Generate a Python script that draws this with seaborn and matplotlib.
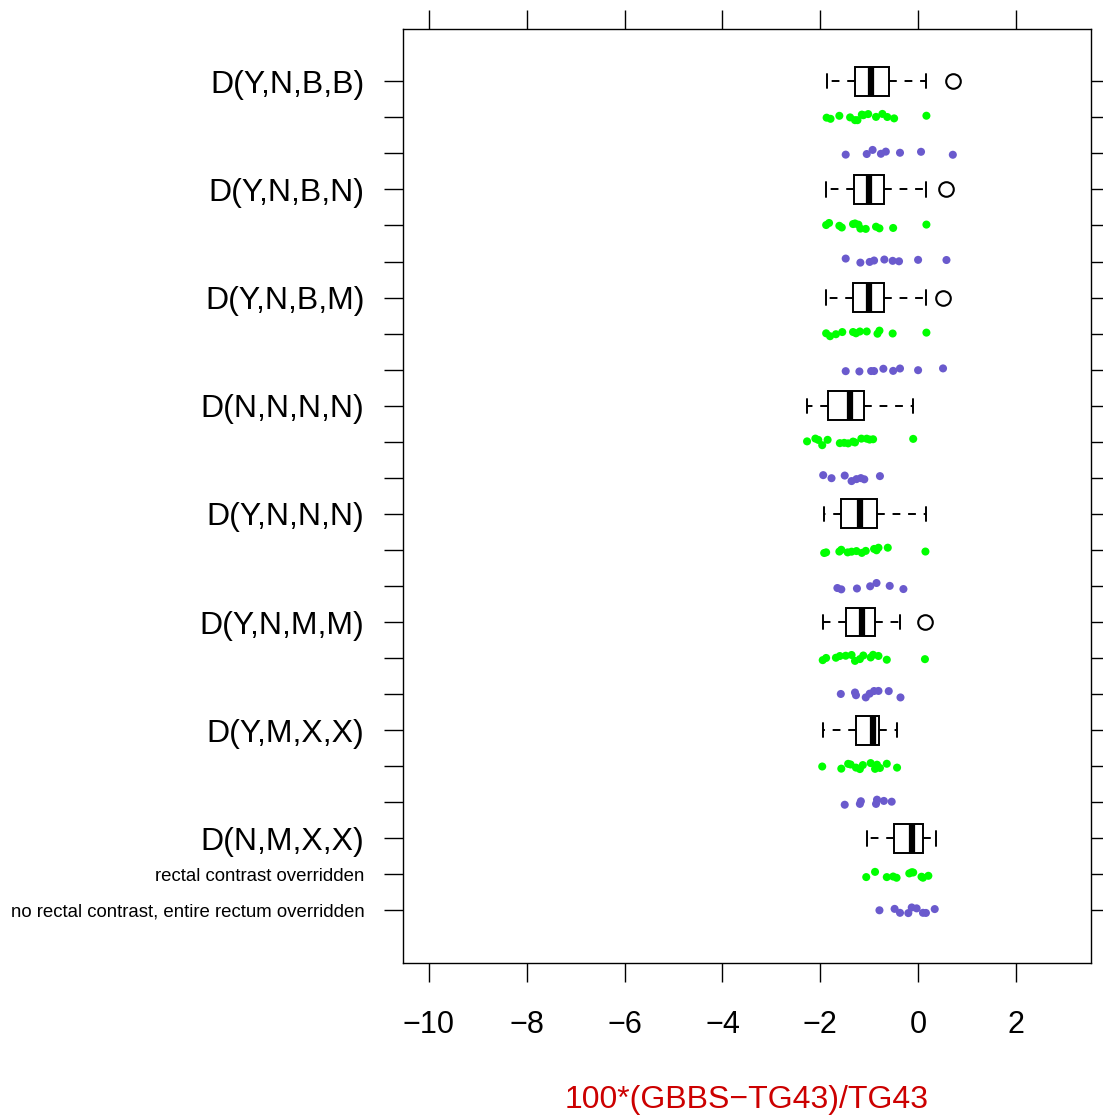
import matplotlib
matplotlib.use("Agg")
from matplotlib import pyplot as plt
import numpy as np
import pandas as pd
import seaborn as sns

# group labels (top to bottom)
groups = ["D(Y,N,B,B)", "D(Y,N,B,N)", "D(Y,N,B,M)", "D(N,N,N,N)",
          "D(Y,N,N,N)", "D(Y,N,M,M)", "D(Y,M,X,X)", "D(N,M,X,X)"]
series_names = ["rectal contrast overridden",
                "no rectal contrast, entire rectum overridden"]

# box summaries per group
box_low = [-1.87, -1.88, -1.88, -2.27, -1.92, -1.94, -1.95, -1.05]
box_q1 = [-1.28, -1.31, -1.33, -1.84, -1.57, -1.48, -1.27, -0.49]
box_med = [-0.97, -1.01, -1.01, -1.39, -1.18, -1.15, -0.92, -0.13]
box_q3 = [-0.60, -0.69, -0.70, -1.10, -0.85, -0.88, -0.79, 0.11]
box_high = [0.17, 0.17, 0.17, -0.10, 0.16, -0.37, -0.43, 0.36]
box_out = [[0.71], [0.58], [0.51], [], [], [0.14], [], []]

# rectal contrast overridden (green)
green = [
    [-1.87, -1.79, -1.61, -1.39, -1.29, -1.24, -1.15, -1.12, -1.02, -0.86, -0.73, -0.63, -0.49, 0.17],
    [-1.88, -1.82, -1.61, -1.56, -1.33, -1.29, -1.22, -1.18, -1.07, -0.86, -0.79, -0.51, 0.17],
    [-1.88, -1.80, -1.68, -1.55, -1.33, -1.27, -1.19, -1.05, -0.83, -0.79, -0.52, 0.17],
    [-2.27, -2.10, -2.04, -1.96, -1.85, -1.60, -1.51, -1.43, -1.33, -1.29, -1.16, -1.05, -0.99, -0.92, -0.10],
    [-1.92, -1.88, -1.61, -1.57, -1.44, -1.36, -1.26, -1.15, -1.07, -0.90, -0.85, -0.81, -0.62, 0.15],
    [-1.95, -1.88, -1.68, -1.60, -1.48, -1.36, -1.29, -1.19, -1.12, -0.97, -0.92, -0.81, -0.64, 0.14],
    [-1.96, -1.57, -1.43, -1.38, -1.27, -1.19, -1.13, -0.97, -0.88, -0.84, -0.78, -0.64, -0.43],
    [-1.06, -0.88, -0.64, -0.51, -0.44, -0.18, -0.13, -0.10, 0.07, 0.10, 0.21],
]
# no rectal contrast, entire rectum overridden (purple)
purple = [
    [-1.48, -1.05, -0.93, -0.76, -0.66, -0.37, 0.06, 0.71],
    [-1.48, -1.18, -0.99, -0.90, -0.69, -0.52, -0.39, 0.00, 0.58],
    [-1.48, -1.20, -0.96, -0.90, -0.71, -0.51, -0.37, 0.00, 0.51],
    [-1.94, -1.77, -1.50, -1.36, -1.26, -1.17, -1.10, -0.78],
    [-1.65, -1.57, -1.25, -0.98, -0.85, -0.58, -0.30],
    [-1.58, -1.29, -1.27, -1.07, -0.99, -0.90, -0.81, -0.60, -0.36],
    [-1.50, -1.19, -1.17, -0.86, -0.84, -0.70, -0.54],
    [-0.79, -0.48, -0.37, -0.20, -0.13, -0.03, 0.10, 0.16, 0.34],
]
x_ticks = [-10, -8, -6, -4, -2, 0, 2]

# build long table for the points, box stats for bxp
row_order, row_labels = [], []
pt_rows = []
box_stats, box_pos = [], []
for i, g in enumerate(groups):
    last = i == len(groups) - 1
    keys = [g + "|box", g + "|green", g + "|purple"]
    row_order += keys
    row_labels += [g, series_names[0] if last else "", series_names[1] if last else ""]
    box_stats.append(dict(whislo=box_low[i], q1=box_q1[i], med=box_med[i], q3=box_q3[i],
                          whishi=box_high[i], fliers=box_out[i]))
    box_pos.append(3 * i)
    for v in green[i]:
        pt_rows.append({"row": keys[1], "value": v, "series": series_names[0]})
    for v in purple[i]:
        pt_rows.append({"row": keys[2], "value": v, "series": series_names[1]})
df_pts = pd.DataFrame(pt_rows)

sns.set_style("ticks")
plt.rcParams["font.family"] = ["Liberation Sans", "DejaVu Sans"]
plt.rcParams["axes.linewidth"] = 1.0
for k in ["text.color", "axes.labelcolor", "xtick.color", "ytick.color", "axes.edgecolor"]:
    plt.rcParams[k] = "black"

fig = plt.figure(figsize=(11.03, 11.15), dpi=100)
ax = fig.add_axes([0.3654, 0.1366, 0.6235, 0.8374])

np.random.seed(3)
sns.stripplot(data=df_pts, x="value", y="row", order=row_order, hue="series",
              palette={series_names[0]: "#00FF00", series_names[1]: "#6A5ACD"},
              jitter=0.1, size=5.8, linewidth=0, legend=False, ax=ax)

ax.bxp(box_stats, positions=box_pos, widths=0.8, orientation="horizontal",
       patch_artist=True, manage_ticks=False,
       boxprops=dict(facecolor="white", edgecolor="black", linewidth=1.4),
       whiskerprops=dict(color="black", linewidth=1.4, linestyle=(0, (4, 4))),
       capprops=dict(color="black", linewidth=1.4),
       medianprops=dict(color="black", linewidth=4.5, solid_capstyle="butt"),
       flierprops=dict(marker="o", markerfacecolor="none", markeredgecolor="black",
                       markersize=10.5, markeredgewidth=1.5))

ax.set_xlim(-10.53, 3.53)
ax.set_ylim(len(row_order) - 1 + 1.45, -1.45)
ax.set_xticks(x_ticks)
ax.set_xticklabels(["\u2212" + str(-t) if t < 0 else str(t) for t in x_ticks], fontsize=22)
ax.set_yticks(range(len(row_order)))
ax.set_yticklabels(row_labels)
for k, lab in enumerate(ax.get_yticklabels()):
    lab.set_fontsize(23 if k % 3 == 0 else 13.4)
ax.tick_params(axis="both", direction="out", length=13.7, width=1, color="black",
               top=True, right=True, labeltop=False, labelright=False)
ax.tick_params(axis="y", pad=14)
ax.tick_params(axis="x", pad=20.5)
ax.set_ylabel("")
ax.set_xlabel("100*(GBBS\u2212TG43)/TG43", color="#CC0000", fontsize=23, labelpad=32)

fig.savefig("out.png", dpi=100)
